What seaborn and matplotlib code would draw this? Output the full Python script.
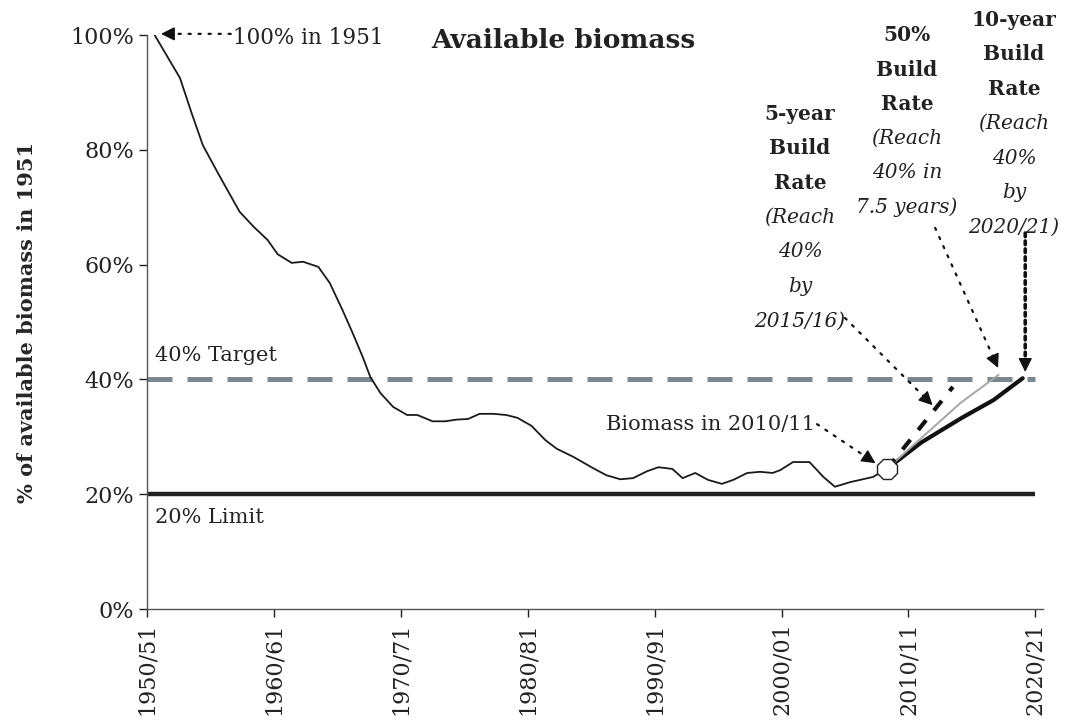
import matplotlib.pyplot as plt
import seaborn as sns
import numpy as np

# historical series
hist_years = [1950.6, 1951.4, 1952.6, 1953.5, 1954.4, 1955.75, 1957.3, 1958.4, 1959.5,
              1960.3, 1961.4, 1962.3, 1963.5, 1964.4, 1965.4, 1966.2, 1967.0, 1967.6,
              1968.4, 1969.4, 1970.5, 1971.3, 1972.5, 1973.5, 1974.4, 1975.3, 1976.2,
              1977.3, 1978.3, 1979.2, 1980.3, 1981.4, 1982.3, 1983.6, 1985.1, 1986.2,
              1987.3, 1988.3, 1989.4, 1990.3, 1991.4, 1992.2, 1993.2, 1994.2, 1995.3,
              1996.2, 1997.3, 1998.3, 1999.3, 1999.9, 2000.9, 2002.2, 2003.3, 2004.2,
              2005.4, 2007.2, 2008.3]
hist_values = [100.0, 97.0, 92.5, 86.5, 80.8, 75.3, 69.2, 66.6, 64.3,
               61.8, 60.3, 60.5, 59.6, 56.8, 52.1, 48.1, 43.9, 40.4,
               37.6, 35.2, 33.8, 33.8, 32.7, 32.7, 33.0, 33.1, 34.0,
               34.0, 33.8, 33.3, 31.9, 29.4, 27.9, 26.5, 24.6, 23.3,
               22.6, 22.8, 24.0, 24.7, 24.4, 22.8, 23.7, 22.5, 21.8,
               22.5, 23.7, 23.9, 23.7, 24.2, 25.6, 25.6, 23.0, 21.3,
               22.1, 23.0, 24.4]

# projections
proj10_years = [2008.3, 2011.0, 2014.2, 2016.7, 2019.0]
proj10_values = [24.4, 29.0, 33.3, 36.4, 40.2]
proj50_years = [2008.3, 2014.1, 2017.1]
proj50_values = [24.4, 35.9, 40.8]
proj5_years = [2008.3, 2013.5]
proj5_values = [24.4, 38.7]

now_year, now_value = 2008.3, 24.4
target, limit = 40, 20

tick_years = [1950, 1960, 1970, 1980, 1990, 2000, 2010, 2020]
tick_labels = ["1950/51", "1960/61", "1970/71", "1980/81", "1990/91", "2000/01", "2010/11", "2020/21"]
y_ticks = [0, 20, 40, 60, 80, 100]

sns.set_style("ticks")
plt.rcParams['font.family'] = ['DejaVu Serif']
plt.rcParams['text.color'] = '#222222'

W, H = 1065, 726
fig = plt.figure(figsize=(W / 100, H / 100), dpi=100)
ax = fig.add_axes([147 / W, 117 / H, 896 / W, 574 / H])

#reference lines
ax.hlines(target, 1950, 2020, color='#7b878f', lw=3.6, linestyles=[(0, (5, 3))], zorder=1)
ax.hlines(limit, 1950, 2020, color='#222222', lw=3.2, zorder=1)

#series
sns.lineplot(x=hist_years, y=hist_values, ax=ax, color='#1a1a1a', lw=1.3, sort=False, zorder=3)
sns.lineplot(x=proj10_years, y=proj10_values, ax=ax, color='#111111', lw=3.0, sort=False, zorder=3)
sns.lineplot(x=proj50_years, y=proj50_values, ax=ax, color='#a6a6a6', lw=1.4, sort=False, zorder=3)
ax.plot(proj5_years, proj5_values, color='#111111', lw=3.0, ls=(0, (3, 3)), zorder=3)
ax.plot([now_year], [now_value], marker='8', ms=16, mfc='white', mec='#222222', mew=1, zorder=5)

ax.set_xlim(1950, 2020.6)
ax.set_ylim(0, 100)
ax.set_xticks(tick_years)
ax.set_xticklabels(tick_labels, rotation=90)
ax.set_yticks(y_ticks)
ax.set_yticklabels([f"{v}%" for v in y_ticks])
ax.tick_params(labelsize=16, colors='#222222', length=6, width=1, direction='out')
ax.set_ylabel("% of available biomass in 1951", fontsize=15, fontweight='bold', labelpad=24)
for s in ['top', 'right']:
    ax.spines[s].set_visible(False)
for s in ['left', 'bottom']:
    ax.spines[s].set_color('#555555')
    ax.spines[s].set_linewidth(1)

fig.text(563 / W, 1 - 40 / H, "Available biomass", fontsize=19, fontweight='bold',
         ha='center', va='center')


def dotted_arrow(start, tip, lw=1.6, ls=(0, (1, 3.5))):
    # dotted shaft, solid head
    p0 = ax.transData.transform(start)
    p1 = ax.transData.transform(tip)
    d = (p1 - p0) / np.hypot(*(p1 - p0))
    back = ax.transData.inverted().transform(p1 - d * 13)
    ax.annotate("", xy=back, xytext=start, annotation_clip=False,
                arrowprops=dict(arrowstyle='-', ls=ls, lw=lw, color='#111111',
                                shrinkA=0, shrinkB=0))
    ax.annotate("", xy=tip, xytext=back, annotation_clip=False,
                arrowprops=dict(arrowstyle='-|>', lw=1, color='#111111',
                                mutation_scale=21, shrinkA=0, shrinkB=0))


#labels and arrows
ax.text(1956.8, 99.5, "100% in 1951", fontsize=15.5, ha='left', va='center')
dotted_arrow((1956.6, 100.2), (1951.1, 100.2))
ax.text(2002.6, 32.2, "Biomass in 2010/11", fontsize=15, ha='right', va='center')
dotted_arrow((2002.8, 32.2), (2007.4, 25.4))
dotted_arrow((2005.0, 50.7), (2011.9, 35.5))
dotted_arrow((2012.1, 66.4), (2017.06, 42.0))
dotted_arrow((2019.2, 65.5), (2019.2, 41.3), lw=2.6, ls=(0, (1, 1.2)))

ax.text(1950.6, 42.5, "40% Target", fontsize=15, ha='left', va='bottom')
ax.text(1950.6, 16.0, "20% Limit", fontsize=15, ha='left', va='center')

blocks = [
    (800, 114, ["5-year", "Build", "Rate"], ["(Reach", "40%", "by", "2015/16)"]),
    (907, 35, ["50%", "Build", "Rate"], ["(Reach", "40% in", "7.5 years)"]),
    (1014, 20, ["10-year", "Build", "Rate"], ["(Reach", "40%", "by", "2020/21)"]),
]
for cx, top, bold_lines, ital_lines in blocks:
    y = top
    for line in bold_lines:
        fig.text(cx / W, 1 - y / H, line, fontsize=14.5, fontweight='bold', ha='center', va='center')
        y += 34.5
    for line in ital_lines:
        fig.text(cx / W, 1 - y / H, line, fontsize=14.5, style='italic', ha='center', va='center')
        y += 34.5

plt.savefig("out.png", dpi=100)
